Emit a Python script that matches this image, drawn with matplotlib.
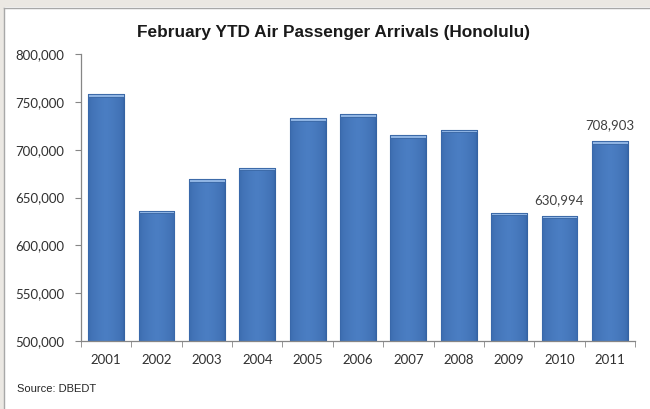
import numpy as np
import matplotlib
matplotlib.use("Agg")
import matplotlib.pyplot as plt
from matplotlib.patches import Rectangle
from matplotlib.ticker import FuncFormatter, FixedLocator

years = ["2001", "2002", "2003", "2004", "2005", "2006",
         "2007", "2008", "2009", "2010", "2011"]
arrivals = [758000, 636000, 669000, 681000, 733000, 737000,
            715000, 721000, 634000, 630994, 708903]
labelled = ["2010", "2011"]

title = "February YTD Air Passenger Arrivals (Honolulu)"
source = "Source: DBEDT"

fig = plt.figure(figsize=(6.5, 4.09), dpi=100)
fig.patch.set_facecolor("white")

# grey window frame along top and left
fig.patches.append(Rectangle((0, 1 - 7 / 409), 1, 7 / 409, transform=fig.transFigure,
                             facecolor="#ebe8e3", edgecolor="none", zorder=0))
fig.patches.append(Rectangle((0, 0), 3.5 / 650, 1, transform=fig.transFigure,
                             facecolor="#ebe8e3", edgecolor="none", zorder=0))
fig.add_artist(plt.Line2D([3.5 / 650, 1], [1 - 7.5 / 409] * 2, transform=fig.transFigure,
                          color="#a8a8a8", lw=1))
fig.add_artist(plt.Line2D([3.5 / 650] * 2, [0, 1 - 7.5 / 409], transform=fig.transFigure,
                          color="#a8a8a8", lw=1))

ax = fig.add_axes([81 / 650, 1 - 341 / 409, 554 / 650, 287 / 409])
x = np.arange(len(years))
bars = ax.bar(x, arrivals, width=0.71, color="#4677bd", edgecolor="#3563a2",
              linewidth=0.8, zorder=2)

# soft horizontal shading and light top cap on each bar
grad = np.linspace(0, 1, 64)
shade = 1 - np.abs(grad - 0.5) * 2
cmap = matplotlib.colors.LinearSegmentedColormap.from_list("b", ["#3766a8", "#4b7ec3"])
for b, v in zip(bars, arrivals):
    x0, w = b.get_x(), b.get_width()
    im = ax.imshow(shade[None, :] ** 0.4, cmap=cmap, vmin=0, vmax=1, aspect="auto",
                   extent=[x0, x0 + w, 500000, v], zorder=2.5)
    im.set_clip_path(b)
    ax.bar(x0 + w / 2, 2600, bottom=v - 2600, width=w, color="#8fb4e3",
           edgecolor="#3563a2", linewidth=0.6, zorder=3)

for xi, yr, v in zip(x, years, arrivals):
    if yr in labelled:
        ax.annotate(f"{v:,}", (xi, v), xytext=(0, 7), textcoords="offset points",
                    ha="center", va="bottom", fontsize=9.5, family="Lato",
                    color="#404040")

ax.set_xlim(-0.5, len(years) - 0.5)
ax.set_ylim(500000, 800000)
ax.set_yticks(np.arange(500000, 800001, 50000))
ax.yaxis.set_major_formatter(FuncFormatter(lambda v, p: f"{int(v):,}"))
ax.set_xticks(x)
ax.set_xticklabels(years)
ax.xaxis.set_minor_locator(FixedLocator(np.arange(-0.5, len(years), 1)))
ax.tick_params(axis="x", which="major", length=0, pad=9)
ax.tick_params(axis="x", which="minor", length=4, color="#868686")
ax.tick_params(axis="y", length=4, color="#868686", pad=8)
for lab in ax.get_xticklabels() + ax.get_yticklabels():
    lab.set_family("Lato")
    lab.set_fontsize(9.5)
    lab.set_color("#303030")

for s in ["top", "right"]:
    ax.spines[s].set_visible(False)
for s in ["left", "bottom"]:
    ax.spines[s].set_color("#868686")
    ax.spines[s].set_linewidth(0.9)

fig.text(333 / 650, 1 - 33 / 409, title, ha="center", va="center",
         fontsize=12.4, fontweight="bold", family="Liberation Sans", color="#1a1a1a")
fig.text(17 / 650, 1 - 389 / 409, source, ha="left", va="center",
         fontsize=8, family="Liberation Sans", color="#262626")

fig.savefig("out.png", dpi=100)
